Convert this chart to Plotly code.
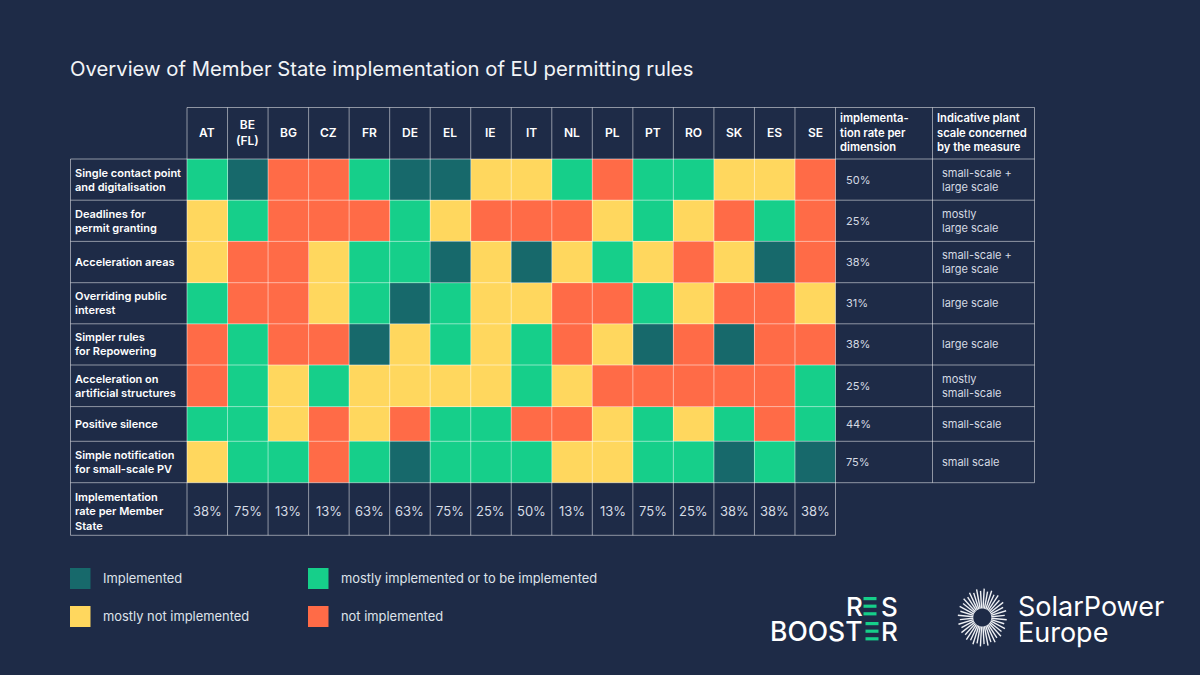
import math
import plotly.graph_objects as go

TITLE = "Overview of Member State implementation of EU permitting rules"
states = ["AT", "BE<br>(FL)", "BG", "CZ", "FR", "DE", "EL", "IE", "IT", "NL", "PL", "PT", "RO", "SK", "ES", "SE"]
dimensions = ["Single contact point<br>and digitalisation", "Deadlines for<br>permit granting", "Acceleration areas",
              "Overriding public<br>interest", "Simpler rules<br>for Repowering", "Acceleration on<br>artificial structures",
              "Positive silence", "Simple notification<br>for small-scale PV"]
# 0 implemented, 1 mostly implemented, 2 mostly not implemented, 3 not implemented
r1 = [1, 0, 3, 3, 1, 0, 0, 2, 2, 1, 3, 1, 1, 2, 2, 3]
r2 = [2, 1, 3, 3, 3, 1, 2, 3, 3, 3, 2, 1, 2, 3, 1, 3]
r3 = [2, 3, 3, 2, 1, 1, 0, 2, 0, 2, 1, 2, 3, 2, 0, 3]
r4 = [1, 3, 3, 2, 1, 0, 1, 2, 2, 3, 3, 1, 2, 3, 3, 2]
r5 = [3, 1, 3, 3, 0, 2, 1, 2, 1, 3, 2, 0, 3, 0, 3, 3]
r6 = [3, 1, 2, 1, 2, 2, 2, 2, 1, 2, 3, 3, 3, 3, 3, 1]
r7 = [1, 1, 2, 3, 2, 3, 1, 1, 3, 3, 2, 1, 2, 1, 3, 1]
r8 = [2, 1, 1, 3, 1, 0, 1, 1, 1, 2, 2, 1, 1, 0, 1, 0]
status = [r1, r2, r3, r4, r5, r6, r7, r8]
rate_dim = ["50%", "25%", "38%", "31%", "38%", "25%", "44%", "75%"]
scale_dim = ["small-scale +<br>large scale", "mostly<br>large scale", "small-scale +<br>large scale", "large scale",
             "large scale", "mostly<br>small-scale", "small-scale", "small scale"]
rate_ms = ["38%", "75%", "13%", "13%", "63%", "63%", "75%", "25%", "50%", "13%", "13%", "75%", "25%", "38%", "38%", "38%"]
legend_names = ["Implemented", "mostly implemented or to be implemented", "mostly not implemented", "not implemented"]

BG = "#1e2b47"
COLORS = ["#17696b", "#16cf8a", "#ffd75e", "#ff6b47"]
LINE = "rgba(255,255,255,0.5)"
FONT = "Inter"
W, H = 1200, 675

# layout in pixels
X0, X1 = 187.0, 835.5
XL, XR1, XR2 = 70.5, 932.5, 1034.5
YH = 107.5
ROW_Y = [159, 200.2, 241.4, 282.7, 323.8, 365, 406.6, 441.3, 482.7]
YB = 535.3
CW = (X1 - X0) / len(states)

def px(x): return x / W
def py(y): return 1 - y / H

fig = go.Figure()
n = len(states)
fig.add_trace(go.Heatmap(
    z=status,
    x=[i for i in range(n + 1)],
    y=ROW_Y,
    zmin=-0.5, zmax=3.5,
    colorscale=[[0, COLORS[0]], [.25, COLORS[0]], [.25, COLORS[1]], [.5, COLORS[1]],
                [.5, COLORS[2]], [.75, COLORS[2]], [.75, COLORS[3]], [1, COLORS[3]]],
    showscale=False, hoverinfo="skip",
))

shapes, ann = [], []

def text(x, y, s, size=11.5, color="#ffffff", anchor="left", weight=400):
    ann.append(dict(xref="paper", yref="paper", x=px(x), y=py(y), text=s,
                    showarrow=False, xanchor=anchor, yanchor="middle", align=anchor,
                    font=dict(family=FONT, size=size, color=color, weight=weight),
                    borderpad=0, borderwidth=0))

def line(x0, y0, x1, y1, color=LINE, w=1):
    shapes.append(dict(type="line", xref="paper", yref="paper", x0=px(x0), y0=py(y0), x1=px(x1), y1=py(y1),
                       line=dict(color=color, width=w), layer="above"))

def rect(x0, y0, x1, y1, color):
    shapes.append(dict(type="rect", xref="paper", yref="paper", x0=px(x0), y0=py(y0), x1=px(x1), y1=py(y1),
                       fillcolor=color, line=dict(width=0), layer="above"))

# grid lines
line(X0, YH, XR2, YH)
for y in ROW_Y:
    line(XL, y, XR2, y)
line(XL, YB, X1, YB)
line(XL, ROW_Y[0], XL, YB)
for i in range(n + 1):
    line(X0 + i * CW, YH, X0 + i * CW, YB)
line(XR1, YH, XR1, ROW_Y[-1])
line(XR2, YH, XR2, ROW_Y[-1])

# title
text(70, 68.5, TITLE, size=20.3, color="#f2f4f7")

# column headers and bottom rates
for i, s in enumerate(states):
    cx = X0 + (i + .5) * CW
    text(cx, 133, s, size=12, anchor="center", weight=600)
    text(cx, 511, rate_ms[i], size=13, color="#d5dae3", anchor="center")
text(840, 133, "implementa-<br>tion rate per<br>dimension", size=11.2, weight=600)
text(937, 133, "Indicative plant<br>scale concerned<br>by the measure", size=11.2, weight=600)

# row labels and right columns
for j, d in enumerate(dimensions):
    cy = (ROW_Y[j] + ROW_Y[j + 1]) / 2
    text(75, cy, d, size=11, weight=600)
    text(845.5, cy, rate_dim[j], size=11, color="#d5dae3")
    text(942, cy, scale_dim[j], size=11, color="#d5dae3")
text(75, 511, "Implementation<br>rate per Member<br>State", size=11, weight=600)

# legend
for (x0, y0, tx, k) in [(70, 568, 102.5, 0), (308, 568, 341, 1), (70, 606, 102.5, 2), (308, 606, 341, 3)]:
    rect(x0, y0, x0 + 20.5, y0 + 21, COLORS[k])
    text(tx, y0 + 10, legend_names[k], size=12.9, color="#dfe3ea")

# RES BOOSTER wordmark
text(845.5, 606, "R", size=26, weight=500)
text(898, 606, "S", size=26, anchor="right", weight=500)
text(770, 631, "BOOST", size=26.5, weight=500)
text(898, 631, "R", size=26, anchor="right", weight=500)
for x0, y0 in [(863.5, 597), (863.5, 604.6), (863.5, 612.2), (865.5, 622), (865.5, 629.6), (865.5, 637.2)]:
    rect(x0, y0, x0 + 13, y0 + 3.2, COLORS[1])

# SolarPower Europe logo
CX, CY = 982.3, 617.5
for k in range(40):
    a = 2 * math.pi * (k + .5) / 40
    s = 1.0 if k % 2 == 0 else 0.92
    line(CX + 9 * math.cos(a), CY + 9 * math.sin(a), CX + s * 24.5 * math.cos(a), CY + s * 29 * math.sin(a),
         color="#eef0f4", w=1.4)
text(1018, 606, "SolarPower", size=27)
text(1018, 632, "Europe", size=27)

fig.update_layout(
    width=W, height=H, autosize=False, margin=dict(l=0, r=0, t=0, b=0),
    paper_bgcolor=BG, plot_bgcolor=BG, showlegend=False,
    xaxis=dict(domain=[px(X0), px(X1)], range=[0, n], visible=False, fixedrange=True),
    yaxis=dict(domain=[py(ROW_Y[-1]), py(ROW_Y[0])], range=[ROW_Y[-1], ROW_Y[0]], visible=False, fixedrange=True),
    shapes=shapes, annotations=ann,
)
fig.write_html("out.html", config=dict(displayModeBar=False),
               post_script="document.body.style.margin='0';document.body.style.background='%s';" % BG)
